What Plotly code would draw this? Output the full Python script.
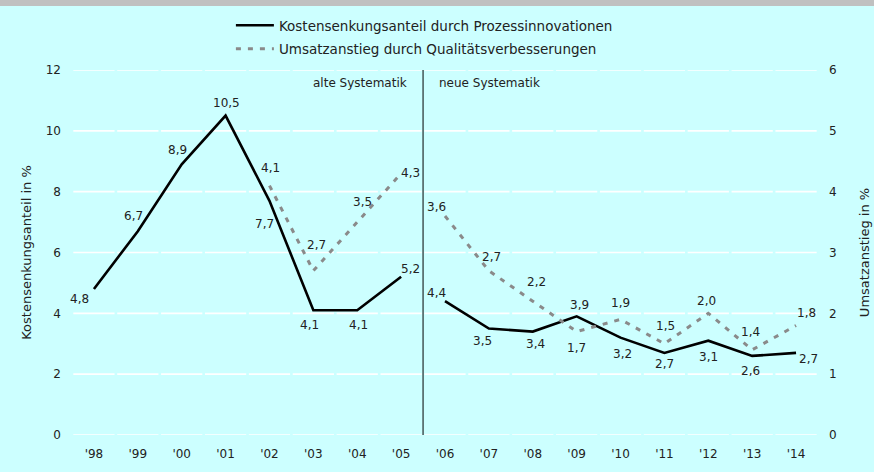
import plotly.graph_objects as go

years = ["'98", "'99", "'00", "'01", "'02", "'03", "'04", "'05", "'06",
         "'07", "'08", "'09", "'10", "'11", "'12", "'13", "'14"]
kosten = [4.8, 6.7, 8.9, 10.5, 7.7, 4.1, 4.1, 5.2, 4.4,
          3.5, 3.4, 3.9, 3.2, 2.7, 3.1, 2.6, 2.7]
umsatz = [None, None, None, None, 4.1, 2.7, 3.5, 4.3, 3.6,
          2.7, 2.2, 1.7, 1.9, 1.5, 2.0, 1.4, 1.8]
left_ticks = [0, 2, 4, 6, 8, 10, 12]
right_ticks = [0, 1, 2, 3, 4, 5, 6]
name_k = "Kostensenkungsanteil durch Prozessinnovationen"
name_u = "Umsatzanstieg durch Qualitätsverbesserungen"
split = 8  # first index of "neue Systematik"

# label offsets in pixels (styling only)
k_off = [(-14, 10), (-4, -15), (-4, -14), (1, -13), (-5, 23), (-4, 15), (1, 15), (9, -8),
         (-9, -8), (-6, 12), (3, 12), (3, -11), (2, 16), (0, 11), (0, 16), (-2, 15), (12, 6)]
u_off = [None, None, None, None, (1, -18), (3, -26), (5, -20), (9, 0),
         (-9, -9), (3, -14), (4, -19), (0, 16), (0, -16), (1, -18), (-2, -12), (-2, -18), (10, -13)]

BG = "#ccffff"
TXT = "#222222"
FONT = "DejaVu Sans"

def fmt(v):
    return f"{v:.1f}".replace(".", ",")

xs = list(range(len(years)))
fig = go.Figure()

for part, (a, b) in enumerate([(0, split), (split, len(years))]):
    fig.add_trace(go.Scatter(
        x=xs[a:b], y=kosten[a:b], mode="lines", name=name_k,
        legendgroup="k", showlegend=(part == 0),
        line=dict(color="black", width=2.6), yaxis="y"))
for part, (a, b) in enumerate([(0, split), (split, len(years))]):
    fig.add_trace(go.Scatter(
        x=xs[a:b], y=umsatz[a:b], mode="lines", name=name_u,
        legendgroup="u", showlegend=(part == 0),
        line=dict(color="#8a8a8a", width=3, dash="5px,7px"), yaxis="y2"))

annotations = []
for i, v in enumerate(kosten):
    dx, dy = k_off[i]
    annotations.append(dict(text=fmt(v), x=xs[i], y=v, xref="x", yref="y",
                            xshift=dx, yshift=-dy, showarrow=False,
                            xanchor="center", yanchor="middle",
                            font=dict(family=FONT, size=12, color=TXT)))
for i, v in enumerate(umsatz):
    if v is None:
        continue
    dx, dy = u_off[i]
    annotations.append(dict(text=fmt(v), x=xs[i], y=v, xref="x", yref="y2",
                            xshift=dx, yshift=-dy, showarrow=False,
                            xanchor="center", yanchor="middle",
                            font=dict(family=FONT, size=12, color=TXT)))
annotations += [
    dict(text="alte Systematik", x=split - 0.5, xref="x", y=12, yref="y",
         xanchor="right", yanchor="top", xshift=-14, yshift=-4, showarrow=False,
         font=dict(family=FONT, size=12, color=TXT)),
    dict(text="neue Systematik", x=split - 0.5, xref="x", y=12, yref="y",
         xanchor="left", yanchor="top", xshift=14, yshift=-4, showarrow=False,
         font=dict(family=FONT, size=12, color=TXT)),
]

shapes = []
# segmented white gridlines
for t in left_ticks:
    for i in xs:
        shapes.append(dict(type="line", xref="x", yref="y", x0=i - 0.47, x1=i + 0.47,
                           y0=t, y1=t, line=dict(color="white", width=1.6), layer="below"))
# separator
shapes.append(dict(type="line", xref="x", yref="y", x0=split - 0.5, x1=split - 0.5,
                   y0=0, y1=12, line=dict(color="black", width=1)))
# top grey band
H = 365.0
W = 746.0
shapes.append(dict(type="rect", xref="paper", yref="paper", x0=-80 / W, x1=1 + 70 / W,
                   y0=1 + 64 / H, y1=1 + 75 / H, fillcolor="#c0c0c0",
                   line=dict(width=0), layer="below"))

fig.update_layout(
    width=874, height=472,
    margin=dict(l=72, r=56, t=70, b=37, autoexpand=False),
    paper_bgcolor=BG, plot_bgcolor=BG,
    font=dict(family=FONT, size=12, color=TXT),
    shapes=shapes,
    annotations=annotations,
    showlegend=True,
    legend=dict(x=0.213, xanchor="left", y=1 + 60 / H, yanchor="top",
                bgcolor="rgba(0,0,0,0)", font=dict(family=FONT, size=13.5, color=TXT),
                tracegroupgap=3, itemwidth=38, traceorder="grouped"),
    xaxis=dict(range=[-0.5, len(years) - 0.5], tickmode="array", tickvals=xs,
               ticktext=years, showgrid=False, zeroline=False, showline=False,
               ticks="", ticklabelstandoff=10, tickfont=dict(size=12)),
    yaxis=dict(range=[0, 12], tickvals=left_ticks, showgrid=False, zeroline=False,
               showline=False, ticks="", ticklabelstandoff=10,
               title=dict(text="Kostensenkungsanteil in %", font=dict(size=13), standoff=11)),
    yaxis2=dict(range=[0, 6], tickvals=right_ticks, overlaying="y", side="right",
                showgrid=False, zeroline=False, showline=False, ticks="",
                ticklabelstandoff=10,
                title=dict(text="Umsatzanstieg in %", font=dict(size=13), standoff=24)),
)

fig.write_html(
    "out.html",
    config={"displayModeBar": False},
    post_script="document.body.style.margin='0px';document.body.style.overflow='hidden';"
                "document.documentElement.style.overflow='hidden';"
                "document.body.style.background='#ccffff';",
)
